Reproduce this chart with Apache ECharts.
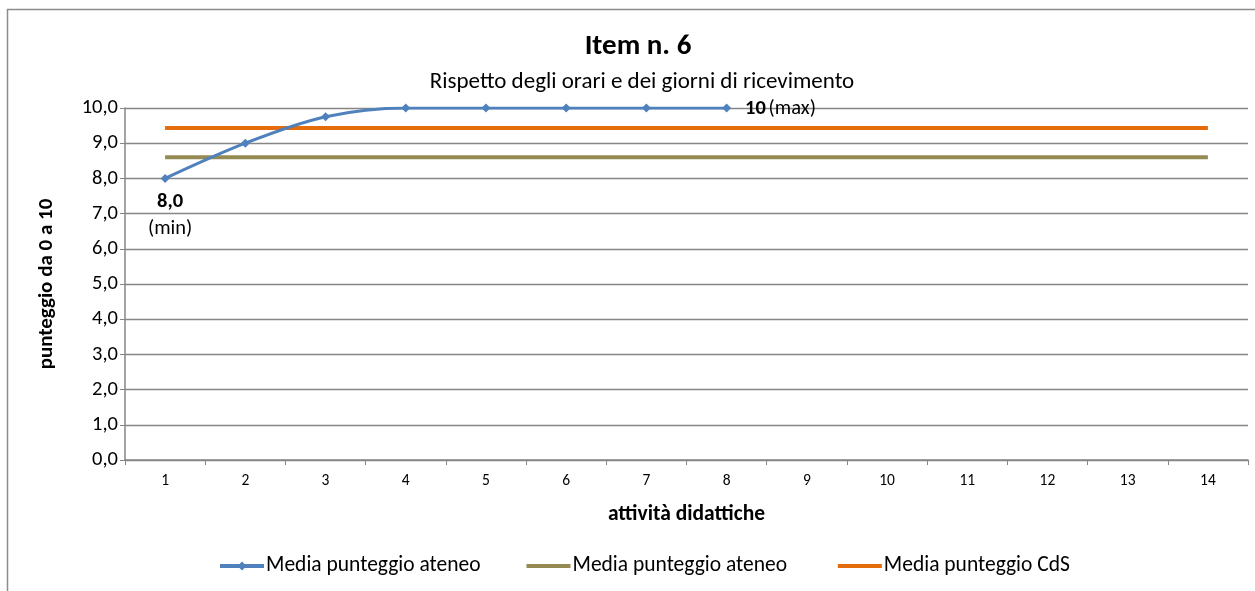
<!DOCTYPE html>
<html>
<head>
<meta charset="utf-8">
<script src="https://cdn.jsdelivr.net/npm/echarts@6/dist/echarts.min.js"></script>
<style>html,body{margin:0;padding:0;background:#fff}#c{width:1255px;height:591px}</style>
</head>
<body>
<div id="c"></div>
<script>
const categories = ['1','2','3','4','5','6','7','8','9','10','11','12','13','14'];
const blueValues = [8.0, 9.0, 9.75, 10, 10, 10, 10, 10];
const oliveValues = [8.6,8.6,8.6,8.6,8.6,8.6,8.6,8.6,8.6,8.6,8.6,8.6,8.6,8.6];
const orangeValues = [9.43,9.43,9.43,9.43,9.43,9.43,9.43,9.43,9.43,9.43,9.43,9.43,9.43,9.43];
const seriesNames = ['Media punteggio ateneo', 'Media punteggio ateneo ', 'Media punteggio CdS'];
const titleText = 'Item n. 6';
const subtitleText = 'Rispetto degli orari e dei giorni di ricevimento';

const FONT = 'Carlito, Lato, "Liberation Sans", sans-serif';
const chart = echarts.init(document.getElementById('c'));

const labRich = {
  b: { fontWeight: 'bold', fontSize: 20.5, fontFamily: FONT, color: '#000', lineHeight: 27 },
  n: { fontSize: 20.5, fontFamily: FONT, color: '#000', lineHeight: 27 }
};
const blueData = blueValues.map((v, i) => {
  if (i === 0) {
    return { value: v, label: { show: true, position: 'bottom', distance: 5, offset: [5, 0],
      formatter: '{b|8,0}\n{n|(min)}', rich: labRich } };
  }
  if (i === blueValues.length - 1) {
    return { value: v, label: { show: true, position: 'right', distance: 14, offset: [0, 1],
      formatter: '{b|10} {n|(max)}', rich: labRich } };
  }
  return v;
});

const blueIcon = 'path://M0,3H44V7H0Z M22,0.5L26.5,5L22,9.5L17.5,5Z';
const plainIcon = 'path://M0,0L0.01,0L0,0.01Z M0,3H44V7H0Z M0,10L0.01,10L0,9.99Z';

chart.setOption({
  animation: false,
  backgroundColor: '#fff',
  textStyle: { fontFamily: FONT },
  title: [
    { text: titleText, left: 633, top: 27, textAlign: 'center',
      textStyle: { fontSize: 29, fontWeight: 'bold', color: '#000', fontFamily: FONT } },
    { text: subtitleText, left: 637, top: 66, textAlign: 'center',
      textStyle: { fontSize: 23, fontWeight: 'normal', color: '#000', fontFamily: FONT } }
  ],
  graphic: [
    { type: 'rect', shape: { x: 7.5, y: 9.5, width: 1260, height: 600 },
      style: { fill: 'none', stroke: '#8c8c8c', lineWidth: 1.5 }, silent: true }
  ],
  legend: {
    top: 550, left: 215, itemGap: 46, itemWidth: 44, itemHeight: 10,
    textStyle: { fontSize: 21.5, color: '#000', fontFamily: FONT, padding: [0,0,0,-3] },
    data: [
      { name: seriesNames[0], icon: blueIcon },
      { name: seriesNames[1], icon: plainIcon },
      { name: seriesNames[2], icon: plainIcon }
    ]
  },
  grid: { left: 125, right: 7, top: 108, bottom: 131, containLabel: false },
  xAxis: {
    type: 'category', data: categories, boundaryGap: true,
    name: 'attività didattiche', nameLocation: 'middle', nameGap: 44,
    nameTextStyle: { fontSize: 21.5, fontWeight: 'bold', color: '#000', fontFamily: FONT },
    axisLine: { lineStyle: { color: '#868686', width: 1.5 } },
    axisTick: { show: true, alignWithLabel: false, length: 5, lineStyle: { color: '#868686' } },
    axisLabel: { fontSize: 15.5, color: '#000', margin: 13, fontFamily: FONT },
    splitLine: { show: false }
  },
  yAxis: {
    type: 'value', min: 0, max: 10, interval: 1,
    name: 'punteggio da 0 a 10', nameLocation: 'middle', nameGap: 68, nameRotate: 90,
    nameTextStyle: { fontSize: 21, fontWeight: 'bold', color: '#000', fontFamily: FONT },
    axisLine: { show: true, lineStyle: { color: '#868686', width: 1.5 } },
    axisTick: { show: true, length: 5, lineStyle: { color: '#868686' } },
    axisLabel: { fontSize: 20.5, color: '#000', margin: 7, fontFamily: FONT,
      formatter: v => v.toFixed(1).replace('.', ',') },
    splitLine: { show: true, lineStyle: { color: '#868686', width: 1.3 } }
  },
  series: [
    { name: seriesNames[0], type: 'line', data: blueData, smooth: 0.3,
      symbol: 'diamond', symbolSize: 9, z: 5,
      lineStyle: { color: '#4F81BD', width: 3 }, itemStyle: { color: '#4F81BD' } },
    { name: seriesNames[1], type: 'line', data: oliveValues, symbol: 'none',
      lineStyle: { color: '#948A54', width: 4 }, itemStyle: { color: '#948A54' } },
    { name: seriesNames[2], type: 'line', data: orangeValues, symbol: 'none',
      lineStyle: { color: '#E46C0A', width: 4 }, itemStyle: { color: '#E46C0A' } }
  ]
});
</script>
</body>
</html>
